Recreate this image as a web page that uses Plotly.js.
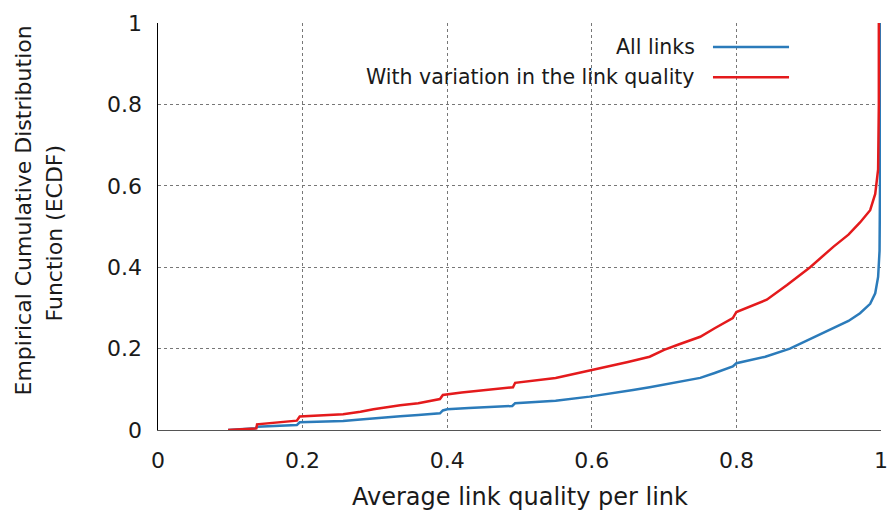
<!DOCTYPE html>
<html>
<head>
<meta charset="utf-8">
<script src="https://cdn.plot.ly/plotly-3.0.1.min.js"></script>
<style>html,body{margin:0;padding:0;background:#fff;}#chart{width:888px;height:513px;}</style>
</head>
<body>
<div id="chart"></div>
<script>
const seriesNames = ["All links", "With variation in the link quality"];
const allLinksX = [0.097,0.135,0.137,0.16,0.192,0.196,0.22,0.256,0.28,0.298,0.335,0.36,0.39,0.394,0.4,0.43,0.46,0.49,0.494,0.52,0.55,0.597,0.63,0.657,0.68,0.704,0.736,0.75,0.77,0.795,0.8,0.84,0.874,0.9,0.934,0.955,0.971,0.985,0.992,0.996,0.998,0.999,0.999];
const allLinksY = [0,0.004,0.008,0.009,0.012,0.019,0.02,0.022,0.026,0.029,0.034,0.037,0.041,0.048,0.051,0.054,0.057,0.059,0.066,0.068,0.072,0.082,0.09,0.098,0.105,0.113,0.123,0.128,0.14,0.156,0.164,0.18,0.2,0.222,0.25,0.268,0.287,0.31,0.336,0.376,0.44,0.7,1];
const variationX = [0.097,0.136,0.137,0.16,0.192,0.196,0.22,0.256,0.28,0.298,0.335,0.36,0.39,0.394,0.42,0.46,0.491,0.494,0.52,0.55,0.597,0.63,0.65,0.68,0.7,0.72,0.75,0.77,0.795,0.8,0.842,0.87,0.902,0.934,0.955,0.971,0.985,0.992,0.996,0.997,0.997];
const variationY = [0,0.004,0.014,0.017,0.023,0.033,0.035,0.039,0.045,0.051,0.061,0.066,0.076,0.086,0.092,0.099,0.105,0.116,0.121,0.128,0.146,0.158,0.167,0.18,0.197,0.21,0.229,0.25,0.275,0.29,0.32,0.356,0.4,0.45,0.48,0.51,0.54,0.58,0.64,0.8,1];
const tickVals = [0,0.2,0.4,0.6,0.8,1];
const tickText = ["0","0.2","0.4","0.6","0.8","1"];
const xTitle = "Average link quality per link";
const yTitleLines = ["Empirical Cumulative Distribution", "Function (ECDF)"];

const blue = "#2b7bba", red = "#e41a1c";
const ff = "DejaVu Sans", fc = "#1a1a1a";
const tickFont = {family: ff, size: 22, color: fc};
const legendFont = {family: ff, size: 20.5, color: fc};
const xTitleFont = {family: ff, size: 24, color: fc};
const yTitleFont = {family: ff, size: 22, color: fc};

const traces = [
  {x: allLinksX, y: allLinksY, mode: "lines", line: {color: blue, width: 2.5}, name: seriesNames[0], showlegend: false},
  {x: variationX, y: variationY, mode: "lines", line: {color: red, width: 2.5}, name: seriesNames[1], showlegend: false}
];

const layout = {
  width: 888, height: 513,
  margin: {l: 158, r: 7, t: 23, b: 83},
  paper_bgcolor: "#fff", plot_bgcolor: "#fff",
  font: legendFont,
  showlegend: false,
  xaxis: {range: [0, 1], tickvals: tickVals, ticktext: tickText, showgrid: true, gridcolor: "#777", griddash: "dot", gridwidth: 1,
          zeroline: false, showline: true, linecolor: "#555", linewidth: 1, ticks: "", ticklabelstandoff: 11, tickfont: tickFont, fixedrange: true},
  yaxis: {range: [0, 1], tickvals: tickVals, ticktext: tickText, showgrid: true, gridcolor: "#777", griddash: "dot", gridwidth: 1,
          zeroline: false, showline: true, linecolor: "#000", linewidth: 1.5, ticks: "", ticklabelstandoff: 10, tickfont: tickFont, fixedrange: true},
  annotations: [
    {text: xTitle, xref: "paper", yref: "paper", x: 0.5, y: 0, yanchor: "middle", yshift: -67, showarrow: false, font: xTitleFont},
    {text: yTitleLines[0], xref: "paper", yref: "paper", x: 0, y: 0.5, xanchor: "center", yanchor: "middle", xshift: -135, yshift: 16, textangle: -90, showarrow: false, font: yTitleFont},
    {text: yTitleLines[1], xref: "paper", yref: "paper", x: 0, y: 0.5, xanchor: "center", yanchor: "middle", xshift: -104, yshift: -7, textangle: -90, showarrow: false, font: yTitleFont},
    {text: seriesNames[0], xref: "paper", yref: "paper", x: 0.7455, y: 0.941, xanchor: "right", yanchor: "middle", showarrow: false, font: legendFont},
    {text: seriesNames[1], xref: "paper", yref: "paper", x: 0.7455, y: 0.867, xanchor: "right", yanchor: "middle", showarrow: false, font: legendFont}
  ],
  shapes: [
    {type: "line", xref: "paper", yref: "paper", x0: 0.7676, x1: 0.8728, y0: 0.941, y1: 0.941, line: {color: blue, width: 2.5}},
    {type: "line", xref: "paper", yref: "paper", x0: 0.7676, x1: 0.8728, y0: 0.867, y1: 0.867, line: {color: red, width: 2.5}}
  ]
};

Plotly.newPlot("chart", traces, layout, {displayModeBar: false, staticPlot: true});
</script>
</body>
</html>
